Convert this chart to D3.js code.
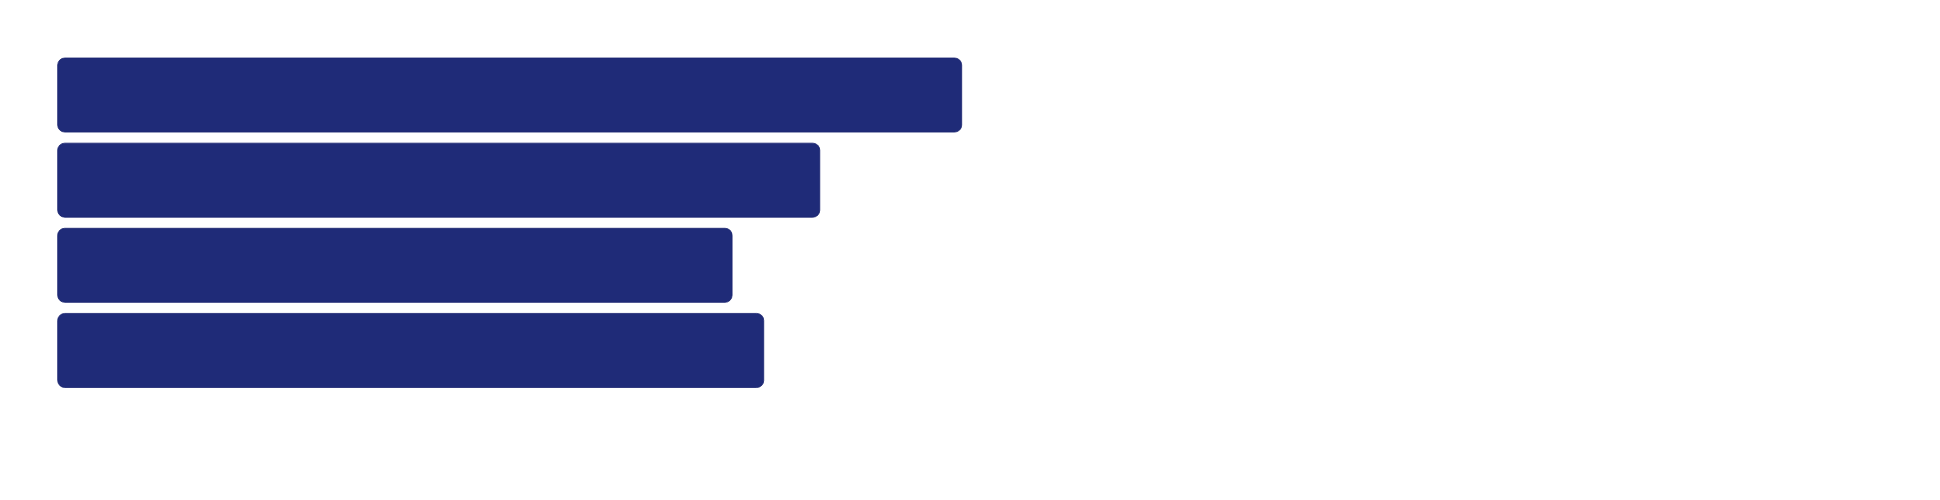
<!DOCTYPE html>
<html>
<head>
<meta charset="utf-8">
<script src="https://cdn.jsdelivr.net/npm/d3@7"></script>
<style>
  html, body { margin: 0; padding: 0; background: #ffffff; }
  svg { display: block; }
</style>
</head>
<body>
<svg id="chart" width="1940" height="500"></svg>
<script>
const categories = ["A", "B", "C", "D"];
const values = [100, 84.3, 74.6, 78.1];

const width = 1940, height = 500;
const svg = d3.select("#chart");

const x = d3.scaleLinear().domain([0, 100]).range([57.7, 961.7]);
const y = d3.scaleBand().domain(categories).range([58, 387.5]).paddingInner(0.13).paddingOuter(0);

const data = categories.map((c, i) => ({ c, v: values[i] }));

svg.append("g")
  .selectAll("rect")
  .data(data)
  .join("rect")
  .attr("x", x(0))
  .attr("y", d => y(d.c))
  .attr("width", d => x(d.v) - x(0))
  .attr("height", y.bandwidth())
  .attr("rx", 7)
  .attr("ry", 7)
  .attr("fill", "#1f2b78")
  .attr("stroke", "#1b2570")
  .attr("stroke-width", 0.8);
</script>
</body>
</html>
